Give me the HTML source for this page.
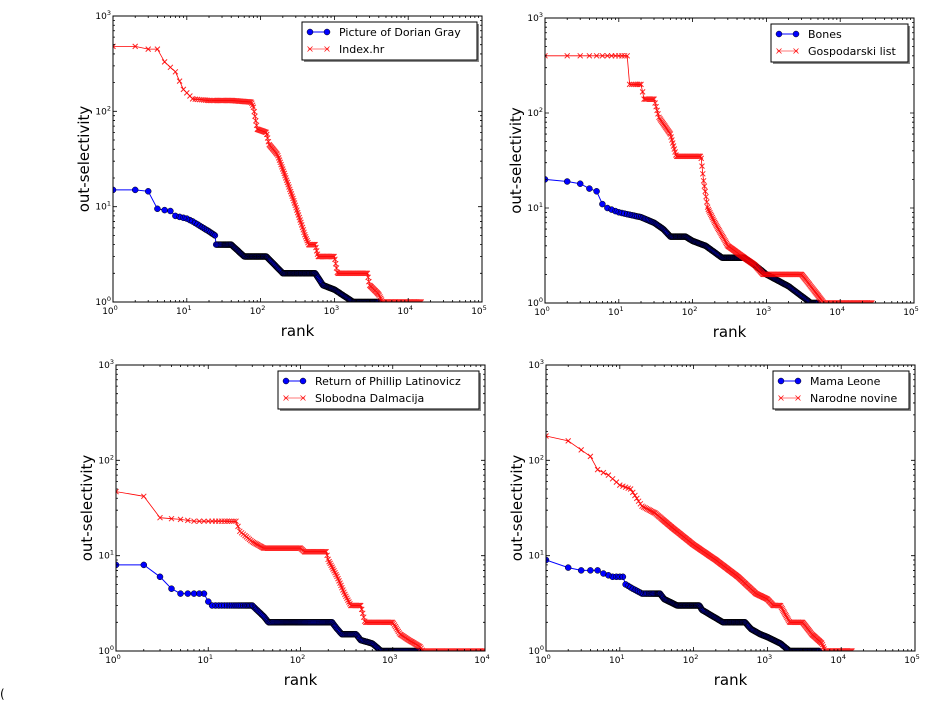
<!DOCTYPE html>
<html><head><meta charset="utf-8">
<style>
body{margin:0;background:#fff;}
svg{display:block;font-family:"DejaVu Sans","Liberation Sans",sans-serif;}
</style></head>
<body>
<svg id="fig" width="940" height="702" viewBox="0 0 940 702">
<text x="0" y="698" font-size="12">(</text>
</svg>
<script>
// ---- data (rank, out-selectivity) key points per series ----
const doriamRanks = [1,2,3,4,5,6,7,10,12,20,24,25,40,60,120,200,550,700,1000,1800,4000];
const doriamVals  = [15,15,14.5,9.5,9.2,9,8,7.5,7,5.5,5,4,4,3,3,2,2,1.5,1.35,1,1];
const indexRanks = [1,2,3,4,5,7,9,12,20,40,75,80,90,120,130,170,220,300,400,450,550,600,1000,1100,2800,3000,4000,4500,15000];
const indexVals  = [480,480,450,450,330,260,170,135,130,130,125,110,65,60,45,35,20,10,5,4,4,3,3,2,2,1.5,1.2,1,1];
const bonesRanks = [1,2,3,4,5,6,7,10,20,30,40,50,80,100,150,250,500,700,1000,2000,4000,5000];
const bonesVals  = [20,19,18,16,15,11,10,9,8,7,6,5,5,4.5,4,3,3,2.5,2,1.5,1,1];
const gospRanks = [1,13,14,20,22,30,35,50,60,130,140,160,200,300,500,700,900,3000,4000,6000,27000];
const gospVals  = [400,400,200,200,140,140,90,60,35,35,20,10,7,4,3,2.5,2,2,1.5,1,1];
const returnRanks = [1,2,3,4,5,9,10,11,30,40,45,220,250,280,400,450,600,750,2000];
const returnVals  = [8,8,6,4.5,4,4,3.3,3,3,2.3,2,2,1.7,1.5,1.5,1.3,1.2,1,1];
const slobRanks = [1,2,3,5,7,20,22,30,40,100,110,190,200,250,300,350,450,500,1000,1200,1500,2000,2100,10000];
const slobVals  = [47,42,25,24,23,23,18,14,12,12,11,11,9,6,4,3,3,2,2,1.5,1.3,1.1,1,1];
const mamaRanks = [1,2,3,5,6,8,11,12,15,20,35,40,60,120,130,250,500,600,800,1000,1500,2000,5000];
const mamaVals  = [9,7.5,7,7,6.5,6,6,5,4.5,4,4,3.5,3,3,2.7,2,2,1.7,1.5,1.4,1.2,1,1];
const narRanks = [1,2,4,5,7,10,14,20,30,50,100,200,400,700,1000,1200,1500,2000,3000,4000,5500,6000,14000];
const narVals  = [180,160,110,80,70,55,50,33,28,20,13,9,6,4,3.5,3,3,2,2,1.5,1.2,1,1];
const xTickLabels4 = ["0","1","2","3","4","5"];
const yTickLabels = ["0","1","2","3"];

const panels = [
 {x0:113,x1:482,y0:16,y1:302,xd:5,leg:[302,22,175,38],names:["Picture of Dorian Gray","Index.hr"],
  blue:[doriamRanks,doriamVals],red:[indexRanks,indexVals],id:"top-left"},
 {x0:545,x1:914,y0:18,y1:303,xd:5,leg:[771,24,137,38],names:["Bones","Gospodarski list"],
  blue:[bonesRanks,bonesVals],red:[gospRanks,gospVals],id:"top-right"},
 {x0:116,x1:485,y0:365,y1:651,xd:4,leg:[278,371,201,38],names:["Return of Phillip Latinovicz","Slobodna Dalmacija"],
  blue:[returnRanks,returnVals],red:[slobRanks,slobVals],id:"bottom-left"},
 {x0:546,x1:915,y0:365,y1:651,xd:5,leg:[773,371,136,38],names:["Mama Leone","Narodne novine"],
  blue:[mamaRanks,mamaVals],red:[narRanks,narVals],id:"bottom-right"}
];
const NS="http://www.w3.org/2000/svg";
const svg=document.getElementById('fig');
function mk(tag,attrs,parent){const e=document.createElementNS(NS,tag);for(const k in attrs)e.setAttribute(k,attrs[k]);(parent||svg).appendChild(e);return e;}
function interp(rs,vs,r){
  if(r<=rs[0])return vs[0];
  for(let i=1;i<rs.length;i++){if(r<=rs[i]){const t=(Math.log(r)-Math.log(rs[i-1]))/(Math.log(rs[i])-Math.log(rs[i-1]));return Math.exp(Math.log(vs[i-1])+t*(Math.log(vs[i])-Math.log(vs[i-1])));}}
  return vs[vs.length-1];
}
function sampleRanks(maxR){const out=[];for(let r=1;r<=Math.min(40,maxR);r++)out.push(r);let r=40;while(r*1.025<=maxR){r*=1.025;out.push(r);}out.push(maxR);return out;}

panels.forEach(p=>{
  const g=mk('g',{});
  
  
  const X=r=>p.x0+Math.log10(r)/p.xd*(p.x1-p.x0);
  const Y=v=>p.y1-Math.log10(v)/3*(p.y1-p.y0);
  const clip='clip-'+p.id;
  const cp=mk('clipPath',{id:clip},g);mk('rect',{x:p.x0,y:p.y0-1,width:p.x1-p.x0,height:p.y1-p.y0+1},cp);
  const plot=mk('g',{'clip-path':'url(#'+clip+')'},g);
  [['blue',p.blue],['red',p.red]].forEach(([c,[rs,vs]])=>{
    const sr=sampleRanks(rs[rs.length-1]);
    const pts=sr.map(r=>X(r).toFixed(1)+','+Y(interp(rs,vs,r)).toFixed(1)).join(' ');
    const sg=mk('g',{},plot);
    
    
    mk('polyline',{points:pts,fill:'none',stroke:c==='blue'?'#0000ff':'#ff0000','stroke-width':c==='blue'?1:0.8},sg);
    let d='';
    sr.forEach(r=>{const x=X(r),y=Y(interp(rs,vs,r));
      if(c==='blue'){d+=`M${(x-3).toFixed(1)},${y.toFixed(1)}a3,3 0 1,0 6,0a3,3 0 1,0 -6,0`;}
      else{d+=`M${(x-2.5).toFixed(1)},${(y-2.5).toFixed(1)}l5,5M${(x-2.5).toFixed(1)},${(y+2.5).toFixed(1)}l5,-5`;}
    });
    if(c==='blue')mk('path',{d:d,fill:'#0000ff',stroke:'#000','stroke-width':0.5},sg);
    else mk('path',{d:d,fill:'none',stroke:'#ff0000','stroke-width':1,'stroke-opacity':0.85},sg);
  });
  const fr=mk('rect',{x:p.x0,y:p.y0,width:p.x1-p.x0,height:p.y1-p.y0,fill:'none',stroke:'#000','stroke-width':1},g);
  
  
  let td='';
  for(let k=0;k<=p.xd;k++){const x=X(Math.pow(10,k));td+=`M${x},${p.y1}v-4M${x},${p.y0}v4`;
    if(k<p.xd)for(let m=2;m<10;m++){const xm=X(m*Math.pow(10,k));td+=`M${xm},${p.y1}v-2M${xm},${p.y0}v2`;}
    const t=mk('text',{x:x-3,y:p.y1+12,'font-size':9,'text-anchor':'middle'},g);
    
    
    t.textContent='10';const s=mk('tspan',{dy:-4,'font-size':6.5},t);s.textContent=xTickLabels4[k];
  }
  for(let k=0;k<=3;k++){const y=Y(Math.pow(10,k));td+=`M${p.x0},${y}h4M${p.x1},${y}h-4`;
    if(k<3)for(let m=2;m<10;m++){const ym=Y(m*Math.pow(10,k));td+=`M${p.x0},${ym}h2M${p.x1},${ym}h-2`;}
    const t=mk('text',{x:p.x0-2,y:y+3,'font-size':9,'text-anchor':'end'},g);
    
    
    t.textContent='10';const s=mk('tspan',{dy:-4,'font-size':6.5},t);s.textContent=yTickLabels[k];
  }
  mk('path',{d:td,stroke:'#000','stroke-width':0.8,fill:'none'},g);
  const xl=mk('text',{x:(p.x0+p.x1)/2,y:p.y1+34,'font-size':15,'text-anchor':'middle'},g);
  
  
  xl.textContent='rank';
  const yc=(p.y0+p.y1)/2, yx=p.x0-24;
  const yl=mk('text',{x:yx,y:yc,'font-size':15,'text-anchor':'middle',transform:`rotate(-90 ${yx} ${yc})`},g);
  
  
  yl.textContent='out-selectivity';
  const [lx,ly,lw,lh]=p.leg;
  const lg=mk('g',{},g);
  
  
  mk('rect',{x:lx+2,y:ly+2,width:lw,height:lh,fill:'#888'},lg);
  mk('rect',{x:lx,y:ly,width:lw,height:lh,fill:'#fff',stroke:'#000','stroke-width':1},lg);
  [0,1].forEach(i=>{
    const yy=ly+10+i*17;
    const e=mk('g',{},lg);
    
    
    if(i===0){mk('line',{x1:lx+8,y1:yy,x2:lx+25,y2:yy,stroke:'#00f','stroke-width':1},e);
      [lx+8,lx+25].forEach(cx=>mk('circle',{cx:cx,cy:yy,r:3,fill:'#00f',stroke:'#000','stroke-width':0.5},e));}
    else{mk('line',{x1:lx+6,y1:yy,x2:lx+27,y2:yy,stroke:'#f00','stroke-width':0.8,'stroke-opacity':0.7},e);
      [lx+8,lx+25].forEach(cx=>mk('path',{d:`M${cx-2.5},${yy-2.5}l5,5M${cx-2.5},${yy+2.5}l5,-5`,stroke:'#f00','stroke-width':0.7},e));}
    const t=mk('text',{x:lx+37,y:yy+4,'font-size':11},e);t.textContent=p.names[i];
  });
});
</script>
</body></html>
